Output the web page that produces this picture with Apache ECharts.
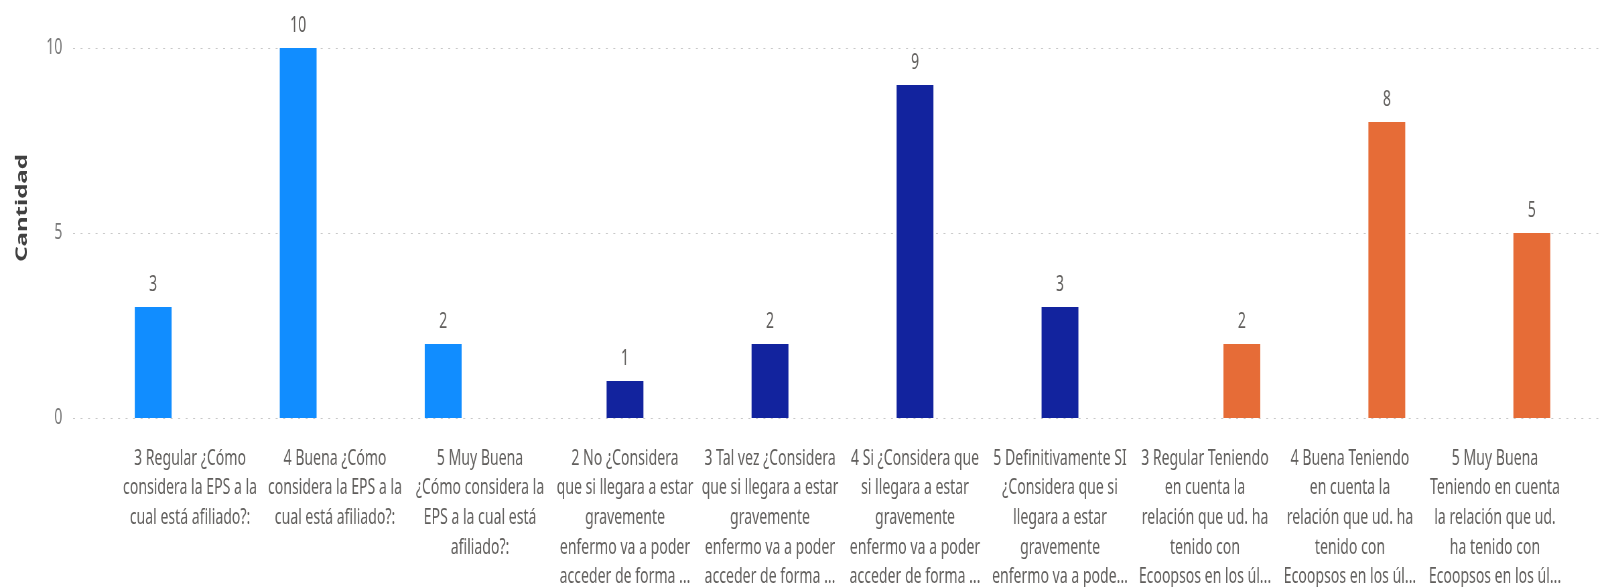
<!DOCTYPE html>
<html>
<head>
<meta charset="utf-8">
<script src="https://cdn.jsdelivr.net/npm/echarts@6/dist/echarts.min.js"></script>
<style>
  html, body { margin: 0; padding: 0; background: #fff; overflow: hidden; }
  /* the source picture is squeezed horizontally, so draw wider and squeeze */
  #chart { width: 2394px; height: 587px; transform: scaleX(0.67); transform-origin: 0 0; }
</style>
</head>
<body>
<div id="chart"></div>
<script>
  // categories (line breaks as shown under the bars)
  var categories = [
    '3 Regular ¿Cómo\nconsidera la EPS a la\ncual está afiliado?:',
    '4 Buena ¿Cómo\nconsidera la EPS a la\ncual está afiliado?:',
    '5 Muy Buena\n¿Cómo considera la\nEPS a la cual está\nafiliado?:',
    '2 No ¿Considera\nque si llegara a estar\ngravemente\nenfermo va a poder\nacceder de forma ...',
    '3 Tal vez ¿Considera\nque si llegara a estar\ngravemente\nenfermo va a poder\nacceder de forma ...',
    '4 Si ¿Considera que\nsi llegara a estar\ngravemente\nenfermo va a poder\nacceder de forma ...',
    '5 Definitivamente SI\n¿Considera que si\nllegara a estar\ngravemente\nenfermo va a pode...',
    '3 Regular Teniendo\nen cuenta la\nrelación que ud. ha\ntenido con\nEcoopsos en los úl...',
    '4 Buena Teniendo\nen cuenta la\nrelación que ud. ha\ntenido con\nEcoopsos en los úl...',
    '5 Muy Buena\nTeniendo en cuenta\nla relación que ud.\nha tenido con\nEcoopsos en los úl...'
  ]
  var cantidad = [3, 10, 2, 1, 2, 9, 3, 2, 8, 5]
  // which question each answer belongs to
  var pregunta = [0, 0, 0, 1, 1, 1, 1, 2, 2, 2]
  var preguntas = ['¿Cómo considera la EPS?', '¿Considera que si llegara a estar gravemente enfermo?', 'Relación con Ecoopsos']
  var colores = ['#118DFF', '#12239E', '#E66C37']
  var yTicks = [0, 5, 10]

  var font = '"Segoe UI", "Noto Sans", "Open Sans", sans-serif'

  var series = preguntas.map(function (nombre, p) {
    return {
      name: nombre,
      type: 'bar',
      xAxisIndex: 1,
      yAxisIndex: 1,
      barWidth: 55,
      barGap: '0%',
      color: colores[p],
      data: cantidad.map(function (v, i) { return pregunta[i] === p ? v : null }),
      label: {
        show: true,
        position: 'top',
        distance: 11,
        color: '#605E5C',
        fontFamily: font,
        fontSize: 21
      }
    }
  })

  var myChart = echarts.init(document.getElementById('chart'))
  myChart.setOption({
    animation: false,
    grid: [
      { left: 109, right: 6, top: 48, bottom: 169, outerBoundsMode: 'none' },       // gridlines + y labels
      { left: 175.4, right: 54.5, top: 48, bottom: 169, outerBoundsMode: 'none' }   // bars
    ],
    xAxis: [
      { gridIndex: 0, type: 'value', min: 0, max: 1, show: false },
      {
        gridIndex: 1,
        type: 'category',
        data: categories,
        axisLine: { show: false },
        axisTick: { show: false },
        axisLabel: {
          interval: 0,
          margin: 26,
          color: '#605E5C',
          fontFamily: font,
          fontSize: 21,
          lineHeight: 29.6
        }
      }
    ],
    yAxis: [
      {
        gridIndex: 0,
        type: 'value',
        min: yTicks[0],
        max: yTicks[yTicks.length - 1],
        interval: yTicks[1] - yTicks[0],
        name: 'Cantidad',
        nameLocation: 'middle',
        nameGap: 64,
        nameTextStyle: {
          color: '#404040',
          fontFamily: font,
          fontSize: 24,
          fontWeight: 'bold',
          padding: [0, 0, 0, 50]
        },
        axisLine: { show: false },
        axisTick: { show: false },
        axisLabel: {
          margin: 16,
          color: '#777',
          fontFamily: font,
          fontSize: 21
        },
        splitLine: {
          lineStyle: { color: '#c8c8c8', width: 1, type: [3, 8.2] }
        }
      },
      {
        gridIndex: 1,
        type: 'value',
        min: yTicks[0],
        max: yTicks[yTicks.length - 1],
        show: false,
        splitLine: { show: false }
      }
    ],
    series: series
  })
</script>
</body>
</html>
